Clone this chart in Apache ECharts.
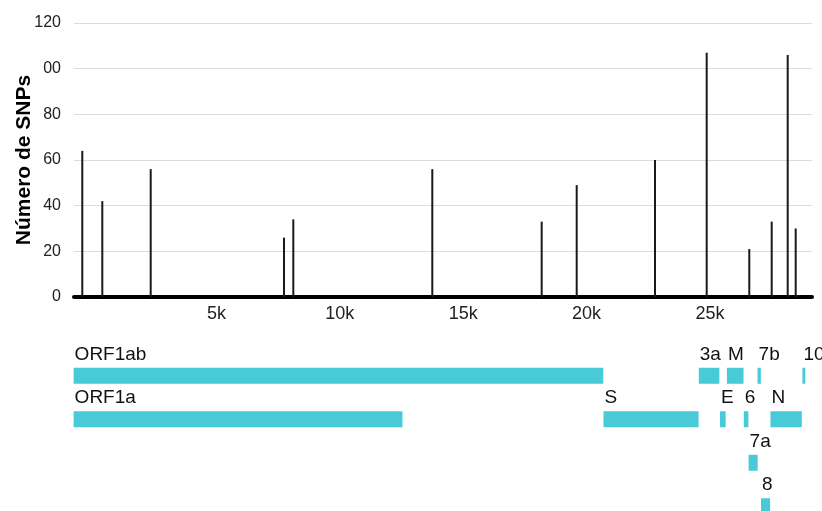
<!DOCTYPE html>
<html><head><meta charset="utf-8">
<script src="https://cdn.jsdelivr.net/npm/echarts@6/dist/echarts.min.js"></script>
<style>html,body{margin:0;padding:0;background:#fff}#c{width:822px;height:511px}</style>
</head><body><div id="c"></div>
<script>
// SNP spikes (genome position in bp, number of SNPs)
const snpPositions = [336, 1147, 3108, 8509, 8886, 14518, 18950, 20369, 23541, 25636, 27362, 28270, 28918, 29242];
const snpCounts = [64, 42, 56, 26, 34, 56, 33, 49, 60, 107, 21, 33, 106, 30];
// axis ticks
const xTickValues = [5000, 10000, 15000, 20000, 25000];
const xTickLabels = ['5k', '10k', '15k', '20k', '25k'];
const yTickLabels = ['0', '20', '40', '60', '80', '00', '120'];
// gene track
const geneNames = ['ORF1ab', '3a', 'M', '7b', '10', 'ORF1a', 'S', 'E', '6', 'N', '7a', '8'];
const geneStarts = [266, 25393, 26523, 27756, 29558, 266, 21563, 26245, 27202, 28274, 27394, 27894];
const geneEnds = [21555, 26220, 27191, 27887, 29674, 13483, 25384, 26472, 27387, 29533, 27759, 28259];
const geneRows = [0, 0, 0, 0, 0, 1, 1, 1, 1, 1, 2, 3];

const FONT = '"Liberation Sans", Arial, sans-serif';
const chart = echarts.init(document.getElementById('c'), null, {renderer: 'canvas'});
chart.setOption({
  animation: false,
  backgroundColor: '#fff',
  textStyle: {fontFamily: FONT},
  grid: [
    {left: 74, right: 10, top: 23, height: 274, containLabel: false, outerBoundsMode: 'none'},
    {left: 67, right: 11, top: 354, height: 174, containLabel: false, outerBoundsMode: 'none'}
  ],
  xAxis: [
    {
      type: 'value', gridIndex: 0, min: 0, max: 29903, interval: 5000,
      axisLine: {show: true, onZero: false, lineStyle: {color: '#000', width: 4}},
      axisTick: {show: false},
      splitLine: {show: false},
      axisLabel: {
        show: true, showMinLabel: false, showMaxLabel: false,
        fontSize: 18, color: '#222', fontFamily: FONT, margin: 8,
        padding: [0, 0, 0, 38],
        formatter: v => { const i = xTickValues.indexOf(v); return i >= 0 ? xTickLabels[i] : ''; }
      }
    },
    {type: 'value', gridIndex: 1, min: 0, max: 29903, show: false}
  ],
  yAxis: [
    {
      type: 'value', gridIndex: 0, min: 0, max: 120, interval: 20,
      axisLine: {show: false}, axisTick: {show: false},
      splitLine: {show: true, lineStyle: {color: '#dcdcdc', width: 1}},
      axisLabel: {
        fontSize: 16, color: '#222', fontFamily: FONT, margin: 13,
        formatter: v => yTickLabels[Math.round(v / 20)]
      },
      name: 'Número de SNPs', nameLocation: 'middle', nameRotate: 90, nameGap: 39,
      nameMoveOverlap: false,
      nameTextStyle: {fontSize: 21, fontWeight: 'bold', color: '#000', fontFamily: FONT}
    },
    {type: 'value', gridIndex: 1, min: 0, max: 4, inverse: true, show: false}
  ],
  series: [
    {
      type: 'bar', xAxisIndex: 0, yAxisIndex: 0, silent: true,
      barWidth: 2, itemStyle: {color: '#1a1a1a'},
      data: snpPositions.map((p, i) => [p, snpCounts[i]])
    },
    {
      type: 'custom', xAxisIndex: 1, yAxisIndex: 1, silent: true, clip: false,
      data: geneStarts.map((s, i) => [s, geneEnds[i], geneRows[i] + 0.5]),
      renderItem: function (params, api) {
        const s = api.coord([api.value(0), api.value(2)]);
        const e = api.coord([api.value(1), api.value(2)]);
        const h = 16;
        return {
          type: 'group',
          children: [
            {type: 'rect', shape: {x: s[0], y: s[1] - h / 2, width: e[0] - s[0], height: h},
             style: {fill: '#49CAD7'}},
            {type: 'text', x: s[0] + 1, y: s[1] - 21,
             style: {text: geneNames[params.dataIndex], fontSize: 19, fontFamily: FONT,
                     fill: '#111', align: 'left', verticalAlign: 'middle'}}
          ]
        };
      }
    }
  ]
});
</script>
</body></html>
